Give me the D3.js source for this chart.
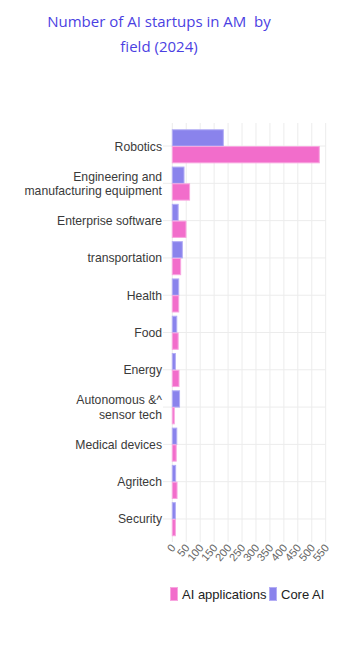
<!DOCTYPE html>
<html><head><meta charset="utf-8">
<script src="https://cdn.jsdelivr.net/npm/d3@7"></script>
<style>body{margin:0;background:#fff;}svg{display:block;}</style>
</head><body>
<svg id="c" width="355" height="656"></svg>
<script>
const categories = [["Robotics"],["Engineering and","manufacturing equipment"],["Enterprise software"],["transportation"],["Health"],["Food"],["Energy"],["Autonomous &^","sensor tech"],["Medical devices"],["Agritech"],["Security"]];
const coreAI = [183, 42, 21, 36, 23, 16, 11, 26, 16, 12, 11];
const aiApplications = [527, 62, 49, 30, 23, 21, 24, 7, 14, 17, 11];
const xTicks = [0,50,100,150,200,250,300,350,400,450,500,550];
const seriesNames = ["Core AI","AI applications"];
const legendNames = ["AI applications","Core AI"];
const titleLines = ["Number of AI startups in AM  by","field (2024)"];

const colors = {"Core AI":"#8a83ec","AI applications":"#f26dcb"};
const strokes = {"Core AI":"#b4aef5","AI applications":"#f8a6e0"};

const svg = d3.select("#c");
const L = 172.3, R = 325.7, T = 127.4, B = 537.6;
const x = d3.scaleLinear().domain([0,550]).range([L,R]);
const keys = categories.map(c=>c.join(" "));
const y = d3.scaleBand().domain(keys).range([T,B]).paddingInner(0.1).paddingOuter(0.05);
const ySub = d3.scaleBand().domain(seriesNames).range([0,y.bandwidth()]);

// title
svg.append("g").selectAll("text").data(titleLines).join("text")
  .attr("x",159).attr("y",(d,i)=>27+i*24.5).attr("text-anchor","middle")
  .attr("font-family","'Open Sans', sans-serif").attr("font-size",15).attr("fill","#4b3fe2")
  .style("white-space","pre").text(d=>d);

// grid
const g = svg.append("g");
g.selectAll("line.v").data(xTicks).join("line").attr("class","v")
  .attr("x1",d=>x(d)).attr("x2",d=>x(d)).attr("y1",123).attr("y2",542)
  .attr("stroke","#ececec").attr("stroke-width",1);
g.selectAll("line.h").data(keys).join("line").attr("class","h")
  .attr("x1",163).attr("x2",R).attr("y1",d=>y(d)+y.bandwidth()/2).attr("y2",d=>y(d)+y.bandwidth()/2)
  .attr("stroke","#ececec").attr("stroke-width",1);

// bars
const data = [];
keys.forEach((k,i)=>{ data.push({k,s:"Core AI",v:coreAI[i]}); data.push({k,s:"AI applications",v:aiApplications[i]}); });
svg.append("g").selectAll("rect").data(data).join("rect")
  .attr("x",x(0)).attr("y",d=>y(d.k)+ySub(d.s)+0.5)
  .attr("width",d=>Math.max(0,x(d.v)-x(0)))
  .attr("height",ySub.bandwidth()-0.5)
  .attr("fill",d=>colors[d.s]).attr("stroke",d=>strokes[d.s]).attr("stroke-width",1);

// category labels
const cl = svg.append("g").selectAll("text").data(categories).join("text")
  .attr("text-anchor","end").attr("font-family","'Liberation Sans', Arial, sans-serif")
  .attr("font-size",12.2).attr("fill","#3a3a3a");
cl.each(function(d,i){
  const cy = y(keys[i])+y.bandwidth()/2;
  const n = d.length, lh = 14.5;
  d3.select(this).selectAll("tspan").data(d).join("tspan")
    .attr("x",162).attr("y",(t,j)=>cy+4.5+(j-(n-1)/2)*lh).text(t=>t);
});

// x tick labels
svg.append("g").selectAll("text").data(xTicks).join("text")
  .attr("transform",d=>`translate(${x(d)+4},${548}) rotate(-50)`)
  .attr("text-anchor","end").attr("font-family","'Liberation Sans', Arial, sans-serif")
  .attr("font-size",11).attr("fill","#666").text(d=>d);

// legend
const lg = svg.append("g").attr("font-family","'Liberation Sans', Arial, sans-serif").attr("font-size",13);
const legX = [170, 269];
legendNames.forEach((n,i)=>{
  lg.append("rect").attr("x",legX[i]+0.5).attr("y",587.5).attr("width",7).attr("height",13)
    .attr("fill",colors[n]).attr("stroke",strokes[n]);
  lg.append("text").attr("x",legX[i]+12).attr("y",599).attr("fill","#222").text(n);
});
</script>
</body></html>
